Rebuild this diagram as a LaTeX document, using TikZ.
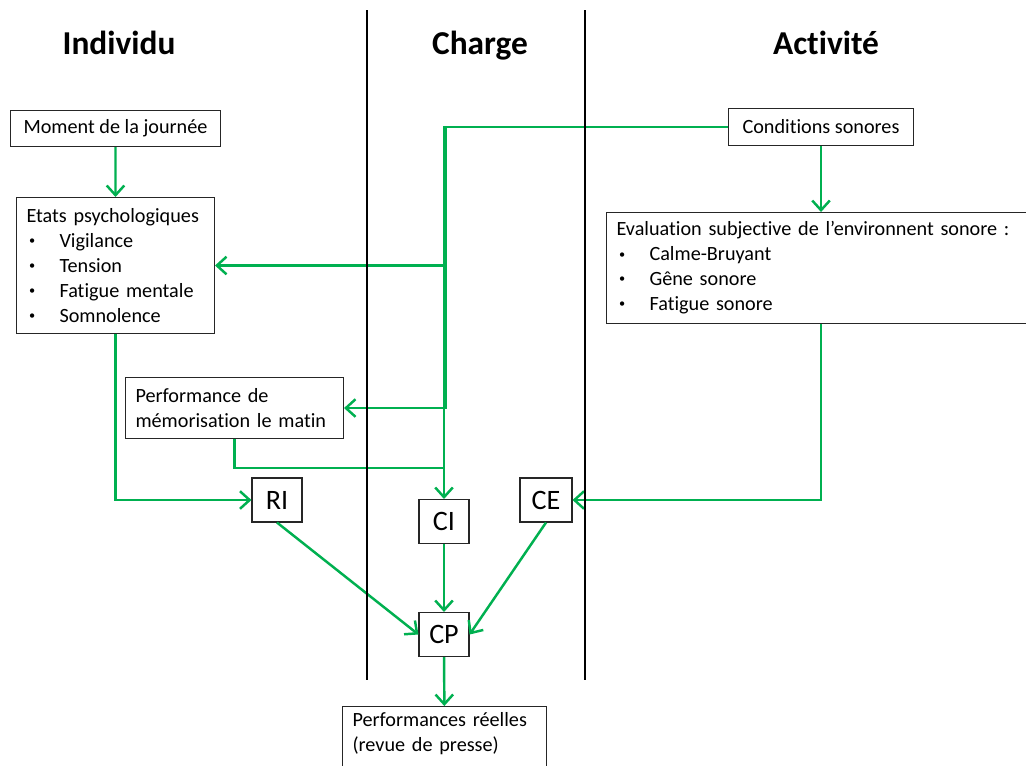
\documentclass[tikz,border=0pt]{standalone}
\usepackage{fontspec}
\setmainfont{Carlito}[Ligatures=NoCommon]
\usetikzlibrary{arrows.meta}
\definecolor{vert}{RGB}{0,176,80}
\newcommand{\puce}[1]{\hspace*{0.05cm}\makebox[0.61cm][l]{\raisebox{0.3ex}{\scriptsize\textbullet}}#1}
\tikzset{
  boite/.style={draw=black!85, line width=0.6pt, fill=white, anchor=north west, align=left, inner xsep=0.2cm, font=\fontsize{11.5}{14.2}\selectfont},
  etiq/.style={draw=black!85, line width=0.6pt, fill=white, minimum height=0.88cm, minimum width=1cm, inner sep=0pt, font=\fontsize{16}{18}\selectfont},
  titre/.style={anchor=base, font=\fontsize{19}{22}\selectfont\bfseries},
  lien/.style={draw=vert, line width=1.4pt, -{Straight Barb[length=5.5pt,width=10pt]}},
  fil/.style={draw=vert, line width=1.4pt},
  sep/.style={line width=1.4pt}
}
\begin{document}
\begin{tikzpicture}[x=0.02cm, y=-0.02cm]
\clip (0,0) rectangle (1026,765);
\fill[white] (0,0) rectangle (1026,765);
\node[titre] (individu) at (119,54) {Individu};
\node[titre] (charge) at (480,54) {Charge};
\node[titre] (activite) at (826,54) {Activité};
\node[boite, minimum width=4.2cm, minimum height=0.72cm, inner xsep=0pt] (moment) at (10,110) {Moment de la journée};
\node[boite, text width=3.56cm, minimum height=2.72cm] (etats) at (16,197)
  {Etats psychologiques\\\puce{Vigilance}\\\puce{Tension}\\\puce{Fatigue mentale}\\\puce{Somnolence}};
\node[boite, text width=3.96cm, minimum height=1.22cm] (perf) at (125,377) {Performance de\\mémorisation le matin};
\node[boite, minimum width=3.7cm, minimum height=0.74cm, inner xsep=0pt] (cond) at (728,108) {Conditions sonores};
\node[boite, text width=8.8cm, minimum height=2.22cm] (eval) at (606,212)
  {Evaluation subjective de l’environnent sonore :\\\puce{Calme-Bruyant}\\\puce{Gêne sonore}\\\puce{Fatigue sonore}};
\node[boite, text width=3.68cm] (reel) at (342,706) {Performances réelles\\(revue de presse)\\~};
\node[etiq] (ri) at (277,500) {RI};
\node[etiq] (ci) at (444,521.5) {CI};
\node[etiq, minimum width=1.04cm] (ce) at (546,500) {CE};
\node[etiq] (cp) at (444,634.5) {CP};
\coordinate (nc) at (cond.west -| ci.north);
\coordinate (nc2) at ([xshift=0.035cm]nc);
\coordinate (mj) at (ci.north |- 0,468);
\draw[lien] (moment) -- (etats);
\draw[lien] (cond.west) -| (ci.north);
\draw[lien] (nc2) |- (perf.east);
\draw[lien] (nc |- etats.east) -- (etats.east);
\draw[fil] (perf.south) |- (mj);
\draw[lien] (etats.south) |- (ri.west);
\draw[lien] (cond.south) -- (cond.south |- eval.north);
\draw[lien] (cond.south |- eval.south) |- (ce.east);
\draw[lien] (ri.south) -- (cp.west);
\draw[lien] (ci) -- (cp);
\draw[lien] (ce.south) -- (cp.east);
\draw[lien] (cp) -- (reel);
\draw[sep] (367,10) -- (367,680);
\draw[sep] (585,10) -- (585,680);
\end{tikzpicture}
\end{document}
